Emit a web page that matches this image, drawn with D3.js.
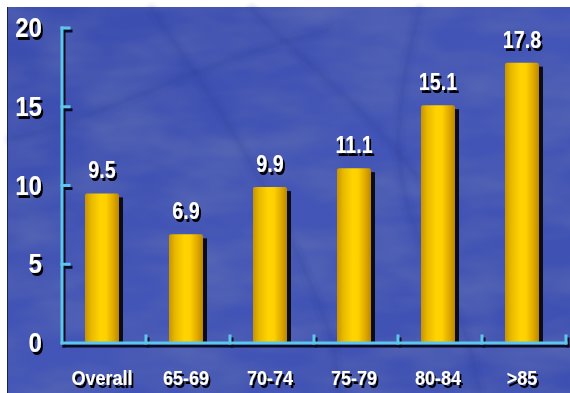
<!DOCTYPE html>
<html>
<head>
<meta charset="utf-8">
<script src="https://cdn.jsdelivr.net/npm/d3@7"></script>
<style>
  html, body { margin: 0; padding: 0; background: #ffffff; }
  svg { display: block; }
</style>
</head>
<body>
<script>
// Rates by age group
const categories = ["Overall", "65-69", "70-74", "75-79", "80-84", ">85"];
const values = [9.5, 6.9, 9.9, 11.1, 15.1, 17.8];
const valueLabels = ["9.5", "6.9", "9.9", "11.1", "15.1", "17.8"];
const yTicks = [0, 5, 10, 15, 20];

const W = 570, H = 393;
const svg = d3.select("body").append("svg").attr("width", W).attr("height", H);
const defs = svg.append("defs");

// Backdrop gradient and grain
const bg = defs.append("linearGradient").attr("id", "bg").attr("x1", 0).attr("y1", 0).attr("x2", 1).attr("y2", 1);
bg.append("stop").attr("offset", 0).attr("stop-color", "#3a4cae");
bg.append("stop").attr("offset", 0.5).attr("stop-color", "#4355b6");
bg.append("stop").attr("offset", 1).attr("stop-color", "#3d4fb1");

const grain = defs.append("filter").attr("id", "grain").attr("x", 0).attr("y", 0).attr("width", 1).attr("height", 1);
grain.append("feTurbulence").attr("type", "fractalNoise").attr("baseFrequency", "0.012 0.03").attr("numOctaves", 3).attr("seed", 7);
grain.append("feColorMatrix").attr("type", "matrix")
  .attr("values", "0 0 0 0 0.12  0 0 0 0 0.16  0 0 0 0 0.45  0 0 0 -1.1 0.75");

const soft = defs.append("filter").attr("id", "soft");
soft.append("feGaussianBlur").attr("stdDeviation", 2.5);

// Hard black drop shadow used by all white text
const drop = defs.append("filter").attr("id", "drop").attr("x", "-20%").attr("y", "-20%").attr("width", "150%").attr("height", "150%");
drop.append("feOffset").attr("in", "SourceAlpha").attr("dx", 2).attr("dy", 3).attr("result", "off");
drop.append("feFlood").attr("flood-color", "#000000").attr("result", "blk");
drop.append("feComposite").attr("in", "blk").attr("in2", "off").attr("operator", "in").attr("result", "sh");
const dm = drop.append("feMerge");
dm.append("feMergeNode").attr("in", "sh");
dm.append("feMergeNode").attr("in", "SourceGraphic");

// Cylinder shading for bars
const barGrad = defs.append("linearGradient").attr("id", "bar").attr("x1", 0).attr("x2", 1).attr("y1", 0).attr("y2", 0);
[[0, "#c79400"], [0.18, "#e8b800"], [0.45, "#ffd400"], [0.62, "#ffd000"], [0.85, "#dca600"], [1, "#b98700"]]
  .forEach(([o, c]) => barGrad.append("stop").attr("offset", o).attr("stop-color", c));

svg.append("rect").attr("x", 0).attr("y", 0).attr("width", W).attr("height", H).attr("fill", "#ffffff");
svg.append("rect").attr("x", 7).attr("y", 7).attr("width", W - 7).attr("height", H - 7).attr("fill", "url(#bg)");
svg.append("rect").attr("x", 7).attr("y", 7).attr("width", W - 7).attr("height", H - 7).attr("filter", "url(#grain)");

// Faint streaks across the backdrop
const streaks = [
  "M150,7 C200,80 250,150 300,260 S330,360 340,393",
  "M420,7 C400,90 380,170 430,260 S470,360 480,393",
  "M7,140 C100,120 200,60 330,30",
  "M250,7 C300,60 360,100 420,180"
];
svg.append("g").attr("filter", "url(#soft)").selectAll("path").data(streaks).join("path")
  .attr("d", d => d).attr("fill", "none").attr("stroke", "#2f3f9c").attr("stroke-width", 5).attr("opacity", 0.32);
svg.append("line").attr("x1", 7.5).attr("x2", 7.5).attr("y1", 7).attr("y2", H).attr("stroke", "#1a1f4a").attr("stroke-width", 1);

// Scales
const x = d3.scaleBand().domain(categories).range([62, 566]).padding(0);
const y = d3.scaleLinear().domain([0, 20]).range([343, 28]);

const barW = 34, shadowW = 4;
const barX = d => x(d) + x.bandwidth() / 2 - (barW + shadowW) / 2;

const rows = categories.map((c, i) => ({ c, v: values[i], label: valueLabels[i] }));

// Bars with a dark drop shadow on the right
const bars = svg.append("g");
bars.selectAll("rect.shadow").data(rows).join("rect").attr("class", "shadow")
  .attr("x", d => barX(d.c) + barW - 1).attr("y", d => y(d.v) + 4)
  .attr("width", shadowW + 1).attr("height", d => y(0) - y(d.v) - 4)
  .attr("fill", "#0b0b1a");
bars.selectAll("rect.bar").data(rows).join("rect").attr("class", "bar")
  .attr("x", d => barX(d.c)).attr("y", d => y(d.v))
  .attr("width", barW).attr("height", d => y(0) - y(d.v))
  .attr("rx", 2).attr("fill", "url(#bar)");

// Condensed bold white text with a hard black shadow
function shadowText(g, tx, ty, txt, size, sx, anchor) {
  g.append("g").attr("transform", `translate(${tx},${ty}) scale(${sx},1)`)
    .append("text").attr("x", 0).attr("y", 0).text(txt)
    .attr("font-family", "Liberation Sans, Arial, sans-serif").attr("font-weight", "bold")
    .attr("font-size", size).attr("text-anchor", anchor).attr("fill", "#ffffff")
    .attr("filter", "url(#drop)");
}

// Value labels above bars
const labels = svg.append("g");
rows.forEach(d => shadowText(labels, barX(d.c) + barW / 2, y(d.v) - 15, d.label, 24, 0.82, "middle"));

// Axes: drawn once as a dark offset shadow, then in cyan
const axisColor = "#5cc6ee";
function drawAxes(g, color, dx, dy) {
  const a = g.append("g").attr("transform", `translate(${dx},${dy})`)
    .attr("stroke", color).attr("stroke-width", 3).attr("fill", "none").attr("stroke-linecap", "square");
  a.append("line").attr("x1", x.range()[0]).attr("x2", x.range()[0]).attr("y1", y(20)).attr("y2", y(0));
  a.append("line").attr("x1", x.range()[0]).attr("x2", x.range()[1]).attr("y1", y(0)).attr("y2", y(0));
  a.selectAll("line.yt").data(yTicks.filter(t => t > 0)).join("line").attr("class", "yt")
    .attr("x1", x.range()[0]).attr("x2", x.range()[0] + 7).attr("y1", d => y(d)).attr("y2", d => y(d));
  a.selectAll("line.xt").data(categories).join("line").attr("class", "xt")
    .attr("x1", d => x(d) + x.bandwidth()).attr("x2", d => x(d) + x.bandwidth())
    .attr("y1", y(0)).attr("y2", y(0) - 7);
}
const axes = svg.append("g");
drawAxes(axes, "#0a0a20", 2, 3);
drawAxes(axes, axisColor, 0, 0);

// Tick labels
const yLab = svg.append("g");
yTicks.forEach(t => shadowText(yLab, 42, y(t) + 9, String(t), 28, 0.86, "end"));
const xLab = svg.append("g");
categories.forEach(c => shadowText(xLab, x(c) + x.bandwidth() / 2 - 2, 385, c, 21, 0.86, "middle"));
</script>
</body>
</html>
